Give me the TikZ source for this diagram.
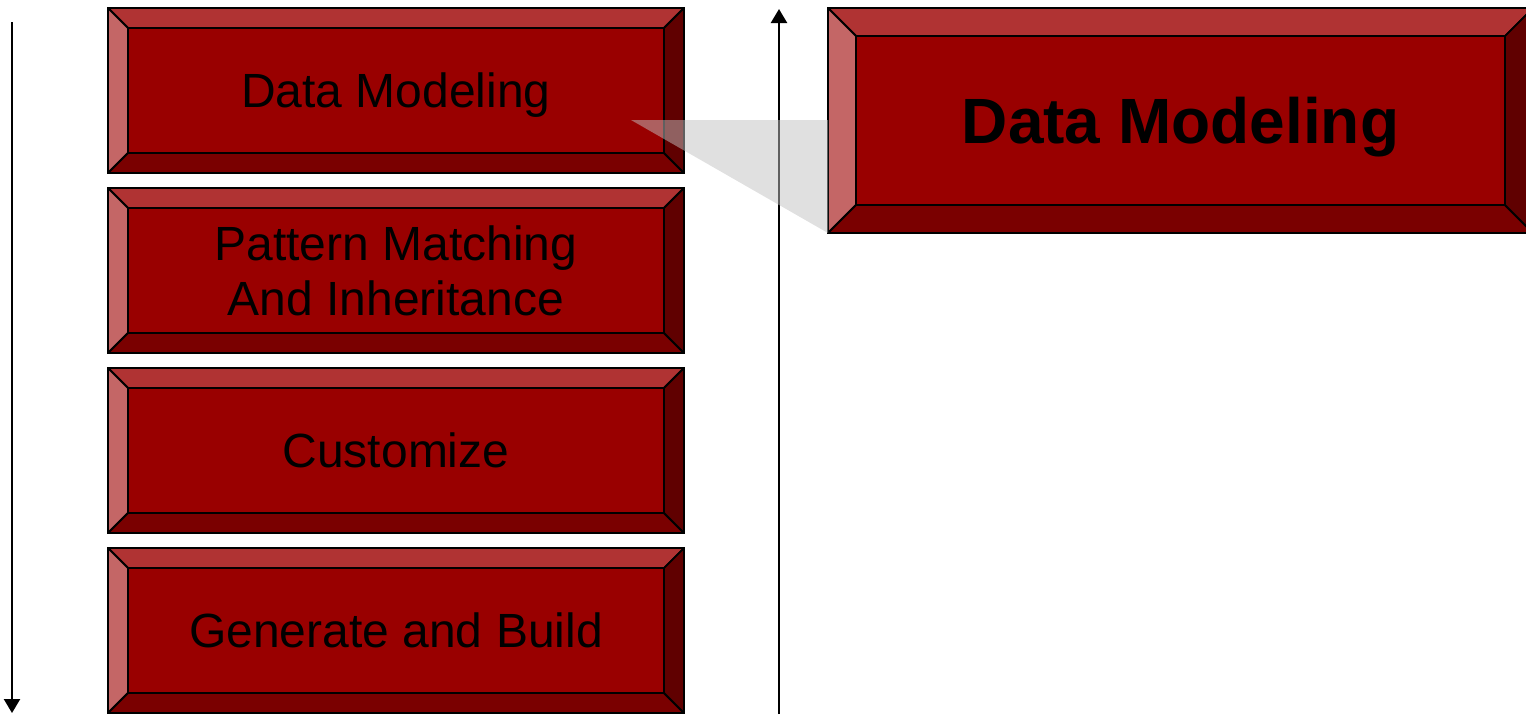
\documentclass[tikz,border=0pt]{standalone}
\usepackage{fontspec}
\setmainfont{Liberation Sans}
\usetikzlibrary{calc,arrows.meta}

\definecolor{boxface}{RGB}{153,0,0}
\definecolor{bevtop}{RGB}{176,51,51}
\definecolor{bevleft}{RGB}{196,102,102}
\definecolor{bevbottom}{RGB}{122,0,0}
\definecolor{bevright}{RGB}{96,0,0}
\definecolor{calloutgray}{RGB}{193,193,193}

\tikzset{
  bevelface/.style={draw=black, line width=0.9pt, line join=round},
}

% bevelled frame round a node: #1 node name, #2 bevel width
\newcommand{\bevel}[2]{%
  \filldraw[bevelface, fill=bevtop] (#1.north west) -- (#1.north east)
    -- ($(#1.north east)+(-#2,#2)$) -- ($(#1.north west)+(#2,#2)$) -- cycle;
  \filldraw[bevelface, fill=bevleft] (#1.north west) -- ($(#1.north west)+(#2,#2)$)
    -- ($(#1.south west)+(#2,-#2)$) -- (#1.south west) -- cycle;
  \filldraw[bevelface, fill=bevbottom] (#1.south west) -- ($(#1.south west)+(#2,-#2)$)
    -- ($(#1.south east)+(-#2,-#2)$) -- (#1.south east) -- cycle;
  \filldraw[bevelface, fill=bevright] (#1.south east) -- ($(#1.south east)+(-#2,-#2)$)
    -- ($(#1.north east)+(-#2,#2)$) -- (#1.north east) -- cycle;
}

\begin{document}
\begin{tikzpicture}[
    x=0.5pt, y=-0.5pt,
    stage/.style={draw, line width=0.9pt, fill=boxface, outer sep=0pt, inner sep=0pt,
      minimum width=288pt, minimum height=82.5pt, align=center, text depth=0pt,
      font=\fontsize{24}{27.5}\selectfont},
    focus/.style={stage, minimum width=352.5pt, minimum height=112.5pt,
      font=\fontsize{32}{36}\selectfont\bfseries},
    flow/.style={line width=1.2pt, -{Triangle[length=7pt, width=8pt]}},
    callout/.style={fill=calloutgray, fill opacity=0.5},
  ]
  \useasboundingbox (0,0) rectangle (1526,714);
  \clip (0,0) rectangle (1526,714);

  % process stages
  \node[stage] (model) at (396,90.5) {Data Modeling};
  \bevel{model}{20}
  \node[stage] (pattern) at (396,270.5) {Pattern Matching\\And Inheritance};
  \bevel{pattern}{20}
  \node[stage] (custom) at (396,450.5) {Customize};
  \bevel{custom}{20}
  \node[stage] (build) at (396,630.5) {Generate and Build};
  \bevel{build}{20}

  % axes
  \coordinate (downtop) at (12,22);
  \coordinate (downbot) at (12,713);
  \draw[flow] (downtop) -- (downbot);
  \coordinate (upbot) at (779,714);
  \coordinate (uptop) at (779,9);
  \draw[flow] (upbot) -- (uptop);

  % zoomed stage
  \node[focus] (modelbig) at (1180.5,120.5) {Data Modeling};
  \bevel{modelbig}{28}

  % callout wedge
  \coordinate (calloutTip) at (631,120);
  \fill[callout] (calloutTip) -- (modelbig.west |- calloutTip) -- (modelbig.south west) -- cycle;
\end{tikzpicture}
\end{document}
